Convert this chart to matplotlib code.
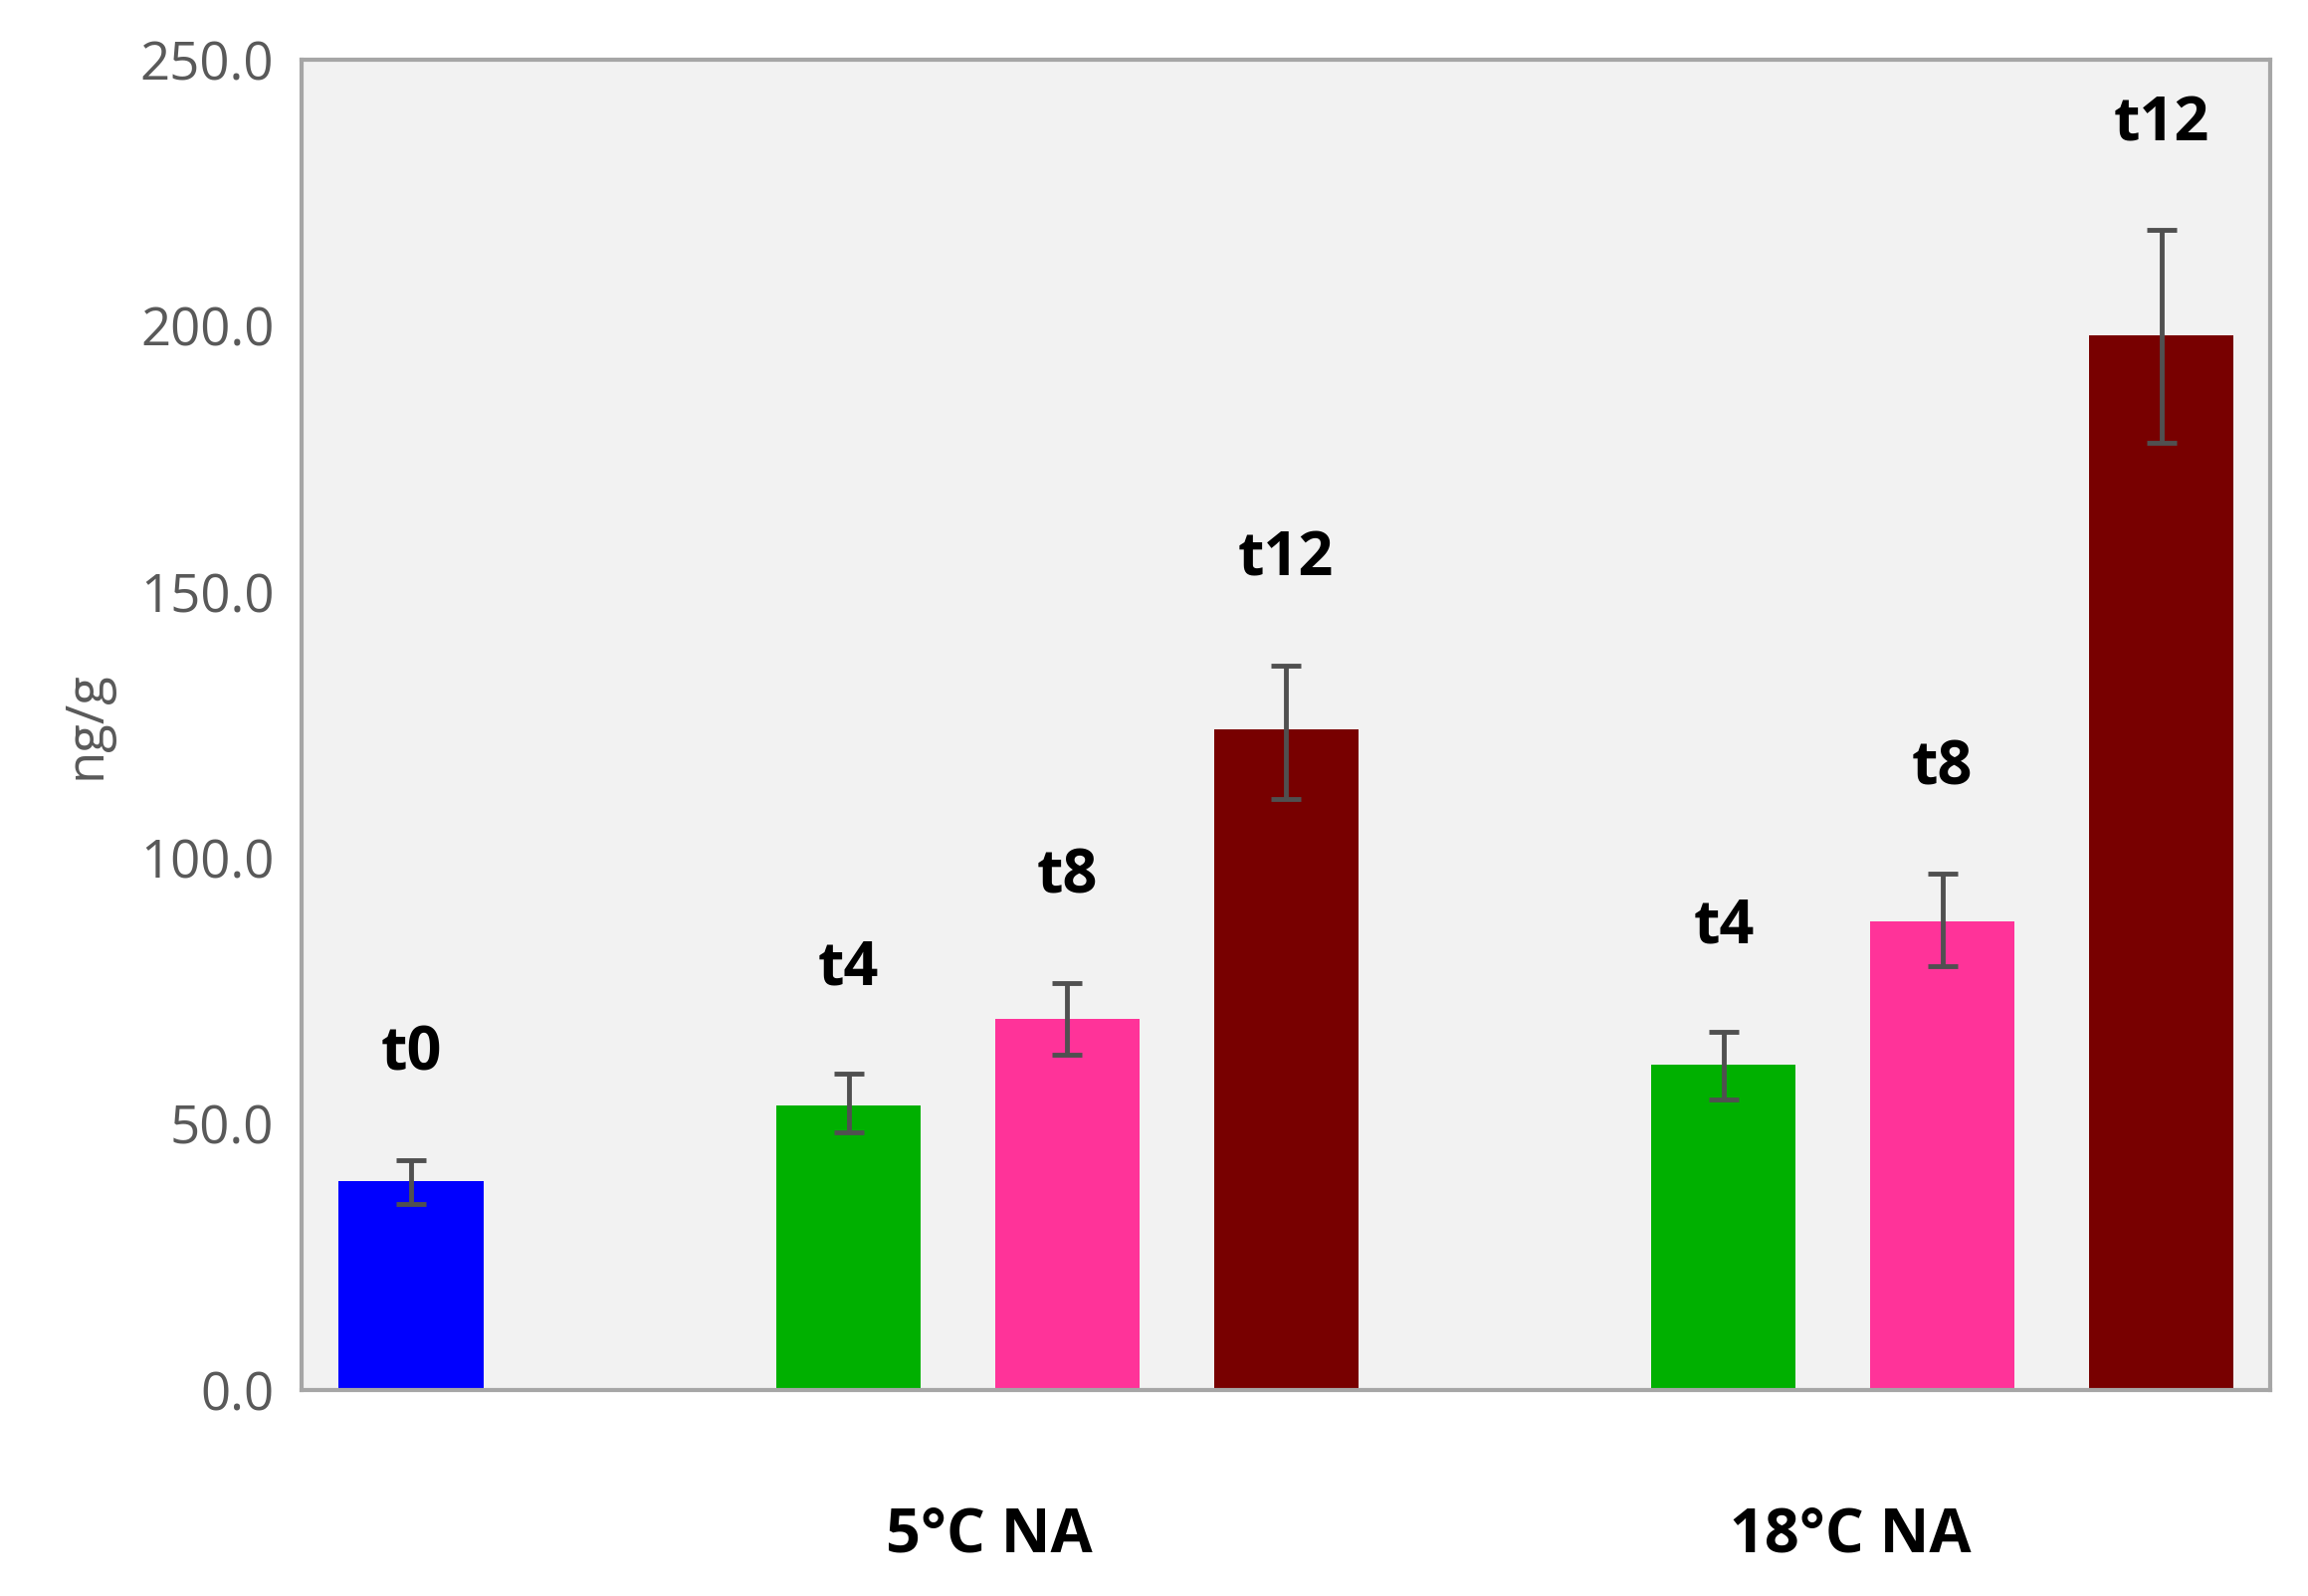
import matplotlib
matplotlib.use("Agg")
import matplotlib.pyplot as plt

labels = ["t0", "t4", "t8", "t12", "t4", "t8", "t12"]
slots = [0, 2, 3, 4, 6, 7, 8]
values = [39.2, 53.5, 69.8, 124.2, 61.1, 88.0, 198.2]
err_lo = [35.0, 48.5, 63.0, 111.0, 54.7, 79.6, 178.0]
err_hi = [43.2, 59.4, 76.5, 136.2, 67.3, 97.0, 218.0]
colors = ["#0000FF", "#00B000", "#FF3399", "#780000", "#00B000", "#FF3399", "#780000"]
groups = ["5°C NA", "18°C NA"]
group_pos = [2.64, 6.58]

plt.rcParams['font.family'] = ['Open Sans', 'DejaVu Sans']
fig = plt.figure(figsize=(23.19, 16.04), dpi=100)
ax = fig.add_axes([0.1307, 0.129, 0.8531, 0.8336])
ax.set_facecolor("#F2F2F2")
yerr = [[v - l for v, l in zip(values, err_lo)], [h - v for v, h in zip(values, err_hi)]]
ax.bar(slots, values, width=0.66, color=colors, zorder=2)
ax.errorbar(slots, values, yerr=yerr, fmt="none", ecolor="#505050", elinewidth=3.5, capsize=11, capthick=3.5, zorder=3)
for x, h, t in zip(slots, err_hi, labels):
    ax.annotate(t, (x, h), xytext=(0, 76), textcoords="offset points", ha="center", va="center",
                fontsize=44, fontweight="bold", color="black")
for x, g in zip(group_pos, groups):
    ax.text(x, -0.11, g, transform=ax.get_xaxis_transform(), ha="center", va="center",
            fontsize=44, fontweight="bold")
ax.set_xlim(-0.5, 8.5)
ax.set_ylim(0, 250)
ax.set_yticks([0, 50, 100, 150, 200, 250])
ax.set_yticklabels([f"{v:.1f}" for v in [0, 50, 100, 150, 200, 250]])
ax.set_xticks([])
ax.tick_params(axis="y", length=0, labelsize=38, labelcolor="#595959", pad=20)
ax.set_ylabel("ng/g", fontsize=38, color="#595959", labelpad=20)
for s in ax.spines.values():
    s.set_color("#A6A6A6")
    s.set_linewidth(3)
fig.savefig("out.png", dpi=100)
